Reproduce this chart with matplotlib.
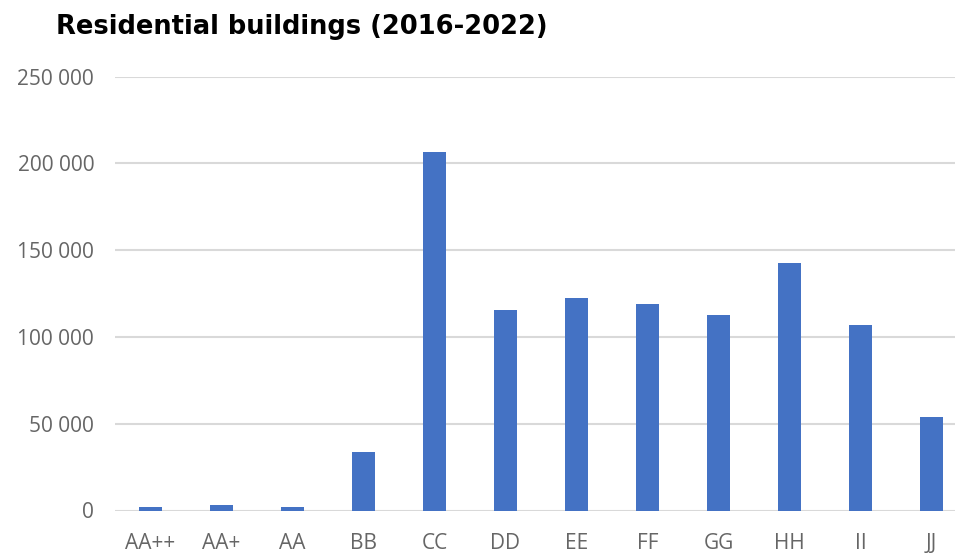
import matplotlib.pyplot as plt
from matplotlib.ticker import FuncFormatter

classes = ['AA++', 'AA+', 'AA', 'BB', 'CC', 'DD', 'EE', 'FF', 'GG', 'HH', 'II', 'JJ']
buildings = [2000, 3300, 2000, 33500, 206400, 115400, 122400, 119200, 112900, 142600, 106700, 53600]
yticks = [0, 50000, 100000, 150000, 200000, 250000]

plt.rcParams['font.family'] = ['Open Sans', 'DejaVu Sans']

fig = plt.figure(figsize=(9.55, 5.53), dpi=100)
ax = fig.add_axes([115 / 955, 42.5 / 553, 852 / 955, 434 / 553])

ax.bar(range(len(classes)), buildings, width=0.31, color='#4472C4', zorder=3)
ax.set_xlim(-0.5, len(classes) - 0.5)
ax.set_ylim(0, 250000)
ax.set_yticks(yticks)
ax.yaxis.set_major_formatter(FuncFormatter(lambda v, p: f'{int(v):,}'.replace(',', ' ')))
ax.set_xticks(range(len(classes)))
ax.set_xticklabels(classes)

ax.grid(axis='y', color='#D9D9D9', linewidth=1.5, zorder=0)
for s in ax.spines.values():
    s.set_visible(False)
ax.tick_params(axis='both', length=0, labelsize=15, labelcolor='#666666')
ax.tick_params(axis='y', pad=15)
ax.tick_params(axis='x', pad=16)

fig.text(56 / 955, 1 - 27 / 553, 'Residential buildings (2016-2022)', family='DejaVu Sans',
         fontsize=18.5, fontweight='bold', va='center', ha='left', color='#000000')

fig.savefig('out.png', dpi=100)
